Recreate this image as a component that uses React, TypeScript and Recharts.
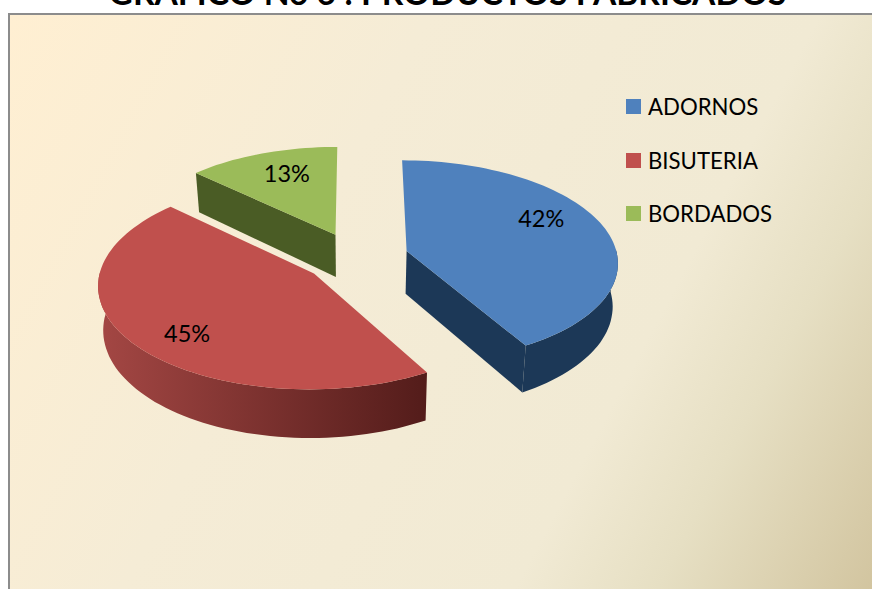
import { PieChart, Pie, Legend } from 'recharts'

const categories = ['ADORNOS', 'BISUTERIA', 'BORDADOS']
const percentages = [41.7, 45.3, 13]
const topColors = ['#4f81bd', '#c0504d', '#9bbb59']
const title = 'GRÁFICO No 6 : PRODUCTOS FABRICADOS'

const data = categories.map((name, i) => ({
  name,
  value: percentages[i],
  fill: topColors[i],
}))

// side faces: [rim left, rim right, cut face]
const SIDE_COLORS: Record<string, string[]> = {
  ADORNOS: ['#1c3857', '#1c3857', '#1c3857'],
  BISUTERIA: ['#a44744', '#531c1a', '#5a1f1d'],
  BORDADOS: ['#4a5c25', '#4a5c25', '#4a5c25'],
}

// fake 3D: the pie disc is tilted and seen with a little perspective
const RX = 211
const RY = 101
const EXPLODE = 0.25
const PERSPECTIVE = 0.1
const DEPTH = 43
const SHRINK = 0.98
const FONT = 'Lato, sans-serif'

// recharts angles run counter-clockwise from 3 o'clock
function project(cx: number, cy: number, angle: number, mid: number, r: number) {
  const a = (angle * Math.PI) / 180
  const m = (mid * Math.PI) / 180
  const u = r * Math.cos(a) + EXPLODE * Math.cos(m)
  const v = -r * Math.sin(a) - EXPLODE * Math.sin(m)
  const k = 1 / (1 - PERSPECTIVE * v)
  return { x: cx + u * RX * k, y: cy + v * RY * k, k }
}

function lower(cx: number, p: { x: number; y: number; k: number }) {
  return { x: cx + (p.x - cx) * SHRINK, y: p.y + DEPTH * p.k, k: p.k }
}

function toPath(points: { x: number; y: number }[]) {
  return points.map((p, i) => `${i ? 'L' : 'M'}${p.x.toFixed(1)},${p.y.toFixed(1)}`).join(' ') + ' Z'
}

function Slice3D(props: any) {
  const { cx, cy, startAngle, endAngle, fill, name } = props
  const mid = (startAngle + endAngle) / 2
  const colors = SIDE_COLORS[name]
  const apex = project(cx, cy, 0, mid, 0)
  const arc: { x: number; y: number; k: number }[] = []
  const front: { x: number; y: number; k: number }[] = []
  const steps = Math.ceil(Math.abs(endAngle - startAngle) / 2)
  for (let i = 0; i <= steps; i++) {
    const angle = startAngle + ((endAngle - startAngle) * i) / steps
    const p = project(cx, cy, angle, mid, 1)
    arc.push(p)
    // only the front half of the rim can be seen
    if (Math.sin((angle * Math.PI) / 180) < 0.05) front.push(p)
  }
  const low = front.map((p) => lower(cx, p))
  const first = arc[0]
  const last = arc[arc.length - 1]
  const xs = arc.map((p) => p.x)
  const gradId = `rim-${name}`
  // a cut face only shows when it turns towards the viewer
  const showStart = Math.cos((startAngle * Math.PI) / 180) < -0.001
  const showEnd = Math.cos((endAngle * Math.PI) / 180) > 0.001
  return (
    <g>
      <defs>
        <linearGradient
          id={gradId}
          gradientUnits="userSpaceOnUse"
          x1={Math.min(...xs)}
          x2={Math.max(...xs)}
          y1={0}
          y2={0}
        >
          <stop offset="0%" stopColor={colors[0]} />
          <stop offset="100%" stopColor={colors[1]} />
        </linearGradient>
      </defs>
      {showStart && <path d={toPath([apex, first, lower(cx, first), lower(cx, apex)])} fill={colors[2]} />}
      {showEnd && <path d={toPath([apex, last, lower(cx, last), lower(cx, apex)])} fill={colors[2]} />}
      {front.length > 1 && <path d={toPath([...front, ...low.slice().reverse()])} fill={`url(#${gradId})`} />}
      <path d={toPath([apex, ...arc])} fill={fill} />
    </g>
  )
}

// label radius on the disc and small nudge
const LABEL_PLACE: Record<string, { r: number; dx: number; dy: number }> = {
  ADORNOS: { r: 0.66, dx: 4, dy: -16 },
  BISUTERIA: { r: 0.8, dx: 17, dy: 5 },
  BORDADOS: { r: 0.6, dx: -3, dy: -11 },
}

function renderLabel(props: any) {
  const { cx, cy, midAngle, percent, name } = props
  const place = LABEL_PLACE[name]
  const p = project(cx, cy, midAngle, midAngle, place.r)
  return (
    <text
      x={p.x + place.dx}
      y={p.y + place.dy}
      textAnchor="middle"
      dominantBaseline="central"
      fontFamily={FONT}
      fontSize={23.5}
      fill="#000"
    >
      {`${Math.round(percent * 100)}%`}
    </text>
  )
}

function renderLegend(props: any) {
  return (
    <div>
      {props.payload.map((item: any) => (
        <div
          key={item.value}
          style={{ display: 'flex', alignItems: 'center', height: 53.5, fontFamily: FONT, fontSize: 22.2, color: '#000' }}
        >
          <span style={{ width: 15, height: 15, background: item.color, marginRight: 7 }} />
          {item.value}
        </div>
      ))}
    </div>
  )
}

export default function App() {
  return (
    <div style={{ position: 'absolute', left: 0, top: 0, width: 872, height: 589, overflow: 'hidden', background: '#fff' }}>
      <div
        style={{
          position: 'absolute',
          left: 8,
          top: 13,
          width: 880,
          height: 590,
          boxSizing: 'border-box',
          borderLeft: '2px solid #8c8c8c',
          borderTop: '2px solid #8c8c8c',
          background: 'linear-gradient(118deg, #ffefd2 0%, #f5ecd6 35%, #f1ead4 68%, #e6dfc3 80%, #d0c29c 100%)',
        }}
      />
      <div
        style={{
          position: 'absolute',
          left: 0,
          width: 895,
          top: -28,
          textAlign: 'center',
          fontFamily: FONT,
          fontWeight: 700,
          fontSize: 33.6,
          lineHeight: '40px',
          whiteSpace: 'nowrap',
          color: '#000',
        }}
      >
        {title}
      </div>
      <div style={{ position: 'absolute', left: 0, top: 0 }}>
        <PieChart width={872} height={589} margin={{ top: 0, right: 0, bottom: 0, left: 0 }}>
          <Pie
            data={data}
            dataKey="value"
            nameKey="name"
            cx={356}
            cy={257.5}
            outerRadius={100}
            startAngle={90}
            endAngle={-270}
            stroke="none"
            shape={Slice3D}
            label={renderLabel}
            labelLine={false}
            isAnimationActive={false}
          />
          <Legend
            layout="vertical"
            align="center"
            verticalAlign="middle"
            wrapperStyle={{ left: 626, top: 80, width: 200 }}
            content={renderLegend}
          />
        </PieChart>
      </div>
    </div>
  )
}
